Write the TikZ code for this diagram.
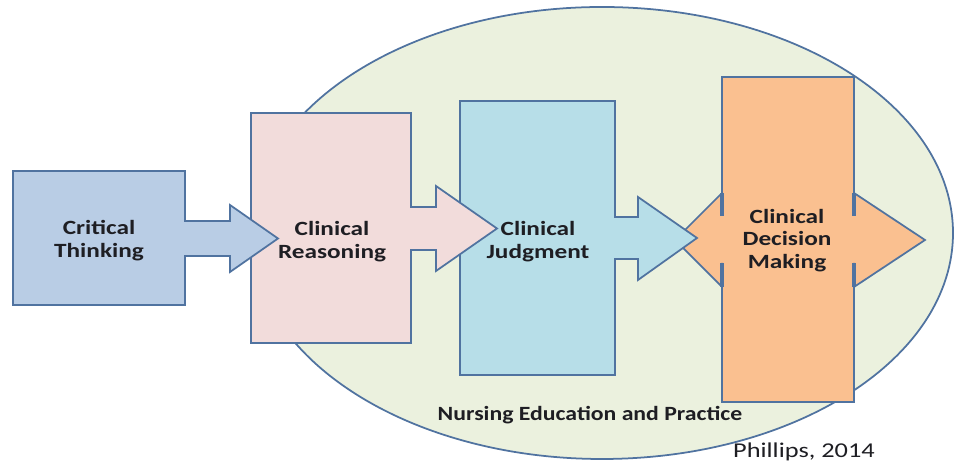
\documentclass[tikz,border=0pt]{standalone}
\usepackage{fontspec}
\setmainfont{Carlito}
\usepackage{tikz}
\usetikzlibrary{positioning, calc}
\definecolor{ctblue}{RGB}{185, 205, 229}
\definecolor{crpink}{RGB}{242, 220, 219}
\definecolor{cjblue}{RGB}{183, 222, 232}
\definecolor{cdorange}{RGB}{250, 192, 144}
\definecolor{nursegreen}{RGB}{235, 241, 222}
\definecolor{shapeline}{RGB}{80, 115, 160}
\definecolor{textdark}{RGB}{30, 30, 35}
\tikzset{
    callout/.style={draw=shapeline, line width=1pt, line join=miter},
    boxtext/.style={font=\bfseries\fontsize{11.5}{13}\selectfont, text=textdark, align=center, xscale=1.25}
}

\begin{document}
\begin{tikzpicture}
        \useasboundingbox (0,0) rectangle (19.08,9.22);

        % Background - Nursing Education and Practice
        \draw[callout, fill=nursegreen] (12.04,4.56) ellipse (7.02 and 4.52);

        % Clinical Decision Making (double arrow)
        \draw[callout, fill=cdorange] (14.44,7.68) -- (17.08,7.68) -- (17.08,4.90) -- (17.08,5.36)
            -- (18.50,4.42) -- (17.08,3.48) -- (17.08,3.96) -- (17.08,1.18) -- (14.44,1.18)
            -- (14.44,3.96) -- (14.44,3.48) -- (13.50,4.42) -- (14.44,5.36) -- (14.44,4.90) -- cycle;
        \foreach \x in {14.44,17.08}
            \draw[shapeline, line width=1.8pt] (\x,5.36) -- (\x,4.90) (\x,3.96) -- (\x,3.48);

        % Clinical Judgment
        \draw[callout, fill=cjblue] (9.20,7.20) -- (12.30,7.20) -- (12.30,4.88) -- (12.76,4.88)
            -- (12.76,5.28) -- (13.94,4.46) -- (12.76,3.62) -- (12.76,4.04) -- (12.30,4.04)
            -- (12.30,1.72) -- (9.20,1.72) -- cycle;

        % Clinical Reasoning
        \draw[callout, fill=crpink] (5.02,6.96) -- (8.22,6.96) -- (8.22,5.08) -- (8.72,5.08)
            -- (8.72,5.50) -- (9.94,4.65) -- (8.72,3.80) -- (8.72,4.22) -- (8.22,4.22)
            -- (8.22,2.36) -- (5.02,2.36) -- cycle;

        % Critical Thinking
        \draw[callout, fill=ctblue] (0.26,5.80) -- (3.70,5.80) -- (3.70,4.80) -- (4.60,4.80)
            -- (4.60,5.12) -- (5.56,4.45) -- (4.60,3.78) -- (4.60,4.10) -- (3.70,4.10)
            -- (3.70,3.12) -- (0.26,3.12) -- cycle;

        % Texts
        \node[boxtext] (thinking) at (1.98,4.40) {Critical\\Thinking};
        \node[boxtext] (reasoning) at (6.64,4.38) {Clinical\\Reasoning};
        \node[boxtext] (judgment) at (10.76,4.38) {Clinical\\Judgment};
        \node[boxtext] (decision) at (15.74,4.41) {Clinical\\Decision\\Making};
        \node[boxtext, xscale=0.94] (practice) at (11.80,0.92) {Nursing Education and Practice};
        \node[font=\fontsize{12}{14}\selectfont, text=textdark, xscale=1.25] (source) at (16.08,0.18) {Phillips, 2014};
    \end{tikzpicture}
\end{document}
